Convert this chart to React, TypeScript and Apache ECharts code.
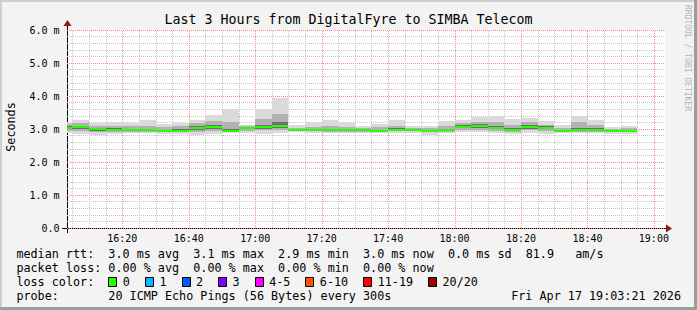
import { useEffect, useRef } from 'react';
import * as echarts from 'echarts';

// ---------- texts ----------
const titleText = 'Last 3 Hours from DigitalFyre to SIMBA Telecom';
const yAxisName = 'Seconds';
const watermark = 'RRDTOOL / TOBI OETIKER';
const probeText = '20 ICMP Echo Pings (56 Bytes) every 300s';
const dateText = 'Fri Apr 17 19:03:21 2026';

// ---------- axes ----------
const rangeStart = '16:03:21';
const rangeEnd = '19:03:21';
const stepMinutes = 5;
const xTickLabels = ['16:20', '16:40', '17:00', '17:20', '17:40', '18:00', '18:20', '18:40', '19:00'];
const yMin = 0;
const yMax = 6;
const yInterval = 1;

// ---------- data (ms), one value per 5-minute step, step end time ----------
const stepEnds = ['16:05', '16:10', '16:15', '16:20', '16:25', '16:30', '16:35', '16:40', '16:45', '16:50', '16:55',
  '17:00', '17:05', '17:10', '17:15', '17:20', '17:25', '17:30', '17:35', '17:40', '17:45', '17:50', '17:55',
  '18:00', '18:05', '18:10', '18:15', '18:20', '18:25', '18:30', '18:35', '18:40', '18:45', '18:50', '18:55'];
const medianRtt = [3.04, 3.05, 2.99, 2.98, 2.97, 2.96, 2.94, 2.95, 3.03, 3.05, 2.95,
  3.04, 3.06, 3.09, 2.98, 2.98, 2.96, 2.97, 2.96, 2.95, 2.98, 2.98, 2.95,
  2.96, 3.07, 3.08, 3.03, 2.96, 3.05, 3.04, 2.95, 2.96, 2.97, 2.94, 2.94];
const rttMax = [3.22, 3.27, 3.19, 3.21, 3.18, 3.28, 3.16, 3.19, 3.26, 3.43, 3.60,
  3.13, 3.62, 3.95, 3.11, 3.21, 3.26, 3.19, 3.10, 3.16, 3.26, 3.09, 3.08,
  3.23, 3.26, 3.36, 3.38, 3.29, 3.33, 3.23, 3.11, 3.39, 3.27, 3.06, 3.10];
const rttHigh = [3.14, 3.18, 3.10, 3.09, 3.08, 3.10, 3.05, 3.08, 3.17, 3.25, 3.20,
  3.09, 3.30, 3.45, 3.04, 3.07, 3.08, 3.06, 3.03, 3.06, 3.10, 3.04, 3.02,
  3.10, 3.17, 3.22, 3.20, 3.12, 3.20, 3.13, 3.03, 3.22, 3.12, 3.00, 3.02];
const rttCoreHigh = [3.08, 3.10, 3.03, 3.02, 3.01, 3.00, 2.98, 2.99, 3.08, 3.12, 3.00,
  3.07, 3.12, 3.20, 3.01, 3.01, 3.00, 3.00, 2.99, 2.98, 3.02, 3.01, 2.98,
  3.00, 3.12, 3.14, 3.10, 3.02, 3.13, 3.08, 2.98, 3.04, 3.02, 2.97, 2.97];
const rttCoreLow = [3.00, 3.00, 2.95, 2.95, 2.94, 2.93, 2.92, 2.92, 2.98, 3.00, 2.93,
  3.00, 3.00, 3.03, 2.95, 2.95, 2.94, 2.94, 2.94, 2.93, 2.95, 2.95, 2.92,
  2.94, 3.02, 3.03, 3.00, 2.93, 3.00, 3.00, 2.93, 2.94, 2.95, 2.92, 2.92];
const rttLow = [2.95, 2.94, 2.91, 2.92, 2.92, 2.91, 2.90, 2.90, 2.92, 2.95, 2.92,
  2.95, 2.96, 2.98, 2.93, 2.93, 2.92, 2.92, 2.92, 2.91, 2.93, 2.93, 2.90,
  2.92, 2.97, 2.98, 2.95, 2.91, 2.96, 2.95, 2.91, 2.91, 2.92, 2.90, 2.90];
const rttMin = [2.87, 2.85, 2.83, 2.86, 2.88, 2.87, 2.86, 2.84, 2.83, 2.86, 2.88,
  2.88, 2.86, 2.88, 2.90, 2.89, 2.88, 2.87, 2.89, 2.88, 2.87, 2.88, 2.83,
  2.87, 2.90, 2.90, 2.88, 2.86, 2.87, 2.86, 2.88, 2.87, 2.88, 2.85, 2.85];

// ---------- legend stats ----------
const rttStatValues = ['3.0', '3.1', '2.9', '3.0', '0.0'];
const rttStatNames = ['avg', 'max', 'min', 'now', 'sd'];
const amPerSecond = '81.9';
const lossStatValues = ['0.00', '0.00', '0.00', '0.00'];
const lossStatNames = ['avg', 'max', 'min', 'now'];
const lossLabels = ['0', '1', '2', '3', '4-5', '6-10', '11-19', '20/20'];
const lossColors = ['#26ff00', '#00b8ff', '#0059ff', '#7e00ff', '#ff00ff', '#ff5500', '#ff0000', '#a10000'];

// ---------- style ----------
const MONO = '"DejaVu Sans Mono", monospace';
const W = 697;
const H = 310;
const PLOT_L = 67;
const PLOT_R = 665;
const PLOT_T = 30;
const PLOT_B = 228;
const LEG_X = 16.4;
const LEG_FS = 11.75;
const CW = LEG_FS * 0.602;
const ROWS = [254, 268, 282, 296];
const MAJOR = '#f08c8c';
const MINOR = '#c4c4c4';
const ARROW = '#8b1a1a';

const toMin = (s: string) => {
  const [h, m, sec] = s.split(':').map(Number);
  return h * 60 + m + (sec || 0) / 60;
};
const fmtHM = (v: number) => {
  const h = Math.floor(v / 60);
  const m = Math.round(v - h * 60);
  return `${h}:${String(m).padStart(2, '0')}`;
};

function tokens(line: string) {
  const out: { col: number; text: string }[] = [];
  const re = /\S+(?: \S+)*/g;
  let m: RegExpExecArray | null;
  while ((m = re.exec(line))) out.push({ col: m.index, text: m[0] });
  return out;
}

export default function App() {
  const ref = useRef<HTMLDivElement>(null);
  useEffect(() => {
    const el = ref.current!;
    const chart = echarts.init(el, undefined, { renderer: 'svg' });
    const xMin = toMin(rangeStart);
    const xMax = toMin(rangeEnd);

    const gridMinutes: number[] = [];
    for (let m = Math.ceil(xMin / stepMinutes) * stepMinutes; m <= xMax; m += stepMinutes) gridMinutes.push(m);

    const smokeData = stepEnds.map((s, i) => [toMin(s), rttMin[i], rttLow[i], rttCoreLow[i], rttCoreHigh[i], rttHigh[i], rttMax[i], medianRtt[i]]);

    const line1 = 'median rtt:  ' + rttStatValues.map((v, i) => `${v} ms ${rttStatNames[i]}`).join('  ') + `  ${amPerSecond}   am/s`;
    const line2 = 'packet loss: ' + lossStatValues.map((v, i) => `${v} % ${lossStatNames[i]}`).join('  ');
    const line4 = 'probe:       ' + probeText;

    const texts: any[] = [];
    const addLine = (line: string, y: number) => {
      tokens(line).forEach((t) => {
        texts.push({
          type: 'text', silent: true,
          style: { x: LEG_X + t.col * CW, y, text: t.text, fill: '#000', fontFamily: MONO, fontSize: LEG_FS, textAlign: 'left', textVerticalAlign: 'middle' },
        });
      });
    };
    addLine(line1, ROWS[0]);
    addLine(line2, ROWS[1]);
    addLine('loss color:', ROWS[2]);
    addLine(line4, ROWS[3]);
    texts.push({
      type: 'text', silent: true,
      style: { x: 681, y: ROWS[3], text: dateText, fill: '#000', fontFamily: MONO, fontSize: LEG_FS, textAlign: 'right', textVerticalAlign: 'middle' },
    });
    let bx = LEG_X + 13 * CW;
    lossLabels.forEach((lab, i) => {
      texts.push({
        type: 'rect', silent: true,
        shape: { x: Math.round(bx) + 0.5, y: ROWS[2] - 4.5, width: 8, height: 9 },
        style: { fill: lossColors[i], stroke: '#000', lineWidth: 1 },
      });
      const lx = bx + 14.5;
      texts.push({
        type: 'text', silent: true,
        style: { x: lx, y: ROWS[2], text: lab, fill: '#000', fontFamily: MONO, fontSize: LEG_FS, textAlign: 'left', textVerticalAlign: 'middle' },
      });
      bx = lx + lab.length * CW + 15;
    });

    const graphic: any[] = [
      // frame
      { type: 'rect', silent: true, shape: { x: 0, y: 0, width: W, height: 2 }, style: { fill: '#cfcfcf' } },
      { type: 'rect', silent: true, shape: { x: 0, y: 0, width: 2, height: H }, style: { fill: '#cfcfcf' } },
      { type: 'rect', silent: true, shape: { x: W - 3, y: 0, width: 3, height: H }, style: { fill: '#9c9c9c' } },
      { type: 'rect', silent: true, shape: { x: 0, y: H - 3, width: W, height: 3 }, style: { fill: '#9c9c9c' } },
      // title
      { type: 'text', silent: true, style: { x: 348.5, y: 19, text: titleText, fill: '#000', fontFamily: MONO, fontSize: 13.3, textAlign: 'center', textVerticalAlign: 'middle' } },
      // y name
      { type: 'text', silent: true, x: 11, y: 127, rotation: Math.PI / 2, style: { x: 0, y: 0, text: yAxisName, fill: '#000', fontFamily: MONO, fontSize: LEG_FS, textAlign: 'center', textVerticalAlign: 'middle' } },
      // watermark
      { type: 'text', silent: true, x: 687, y: 58, rotation: -Math.PI / 2, style: { x: 0, y: 0, text: watermark, fill: '#b4b4b4', fontFamily: MONO, fontSize: 8, textAlign: 'center', textVerticalAlign: 'middle' } },
      // axis extensions & arrows
      { type: 'line', silent: true, shape: { x1: 62, y1: PLOT_B + 0.5, x2: 667, y2: PLOT_B + 0.5 }, style: { stroke: '#000', lineWidth: 1 } },
      { type: 'line', silent: true, shape: { x1: PLOT_L + 0.5, y1: 233, x2: PLOT_L + 0.5, y2: 25 }, style: { stroke: '#000', lineWidth: 1 } },
      { type: 'polygon', silent: true, shape: { points: [[666, 224.5], [672, 228.5], [666, 232.5]] }, style: { fill: ARROW } },
      { type: 'polygon', silent: true, shape: { points: [[63.5, 26], [67.5, 20], [71.5, 26]] }, style: { fill: ARROW } },
      ...texts,
    ];

    const option: any = {
      animation: false,
      backgroundColor: '#f3f3f3',
      grid: { left: PLOT_L, right: W - PLOT_R, top: PLOT_T, bottom: H - PLOT_B, show: true, backgroundColor: '#ffffff', borderWidth: 0 },
      xAxis: {
        type: 'value', min: xMin, max: xMax,
        axisLine: { show: false },
        axisTick: { show: false },
        splitLine: { show: false },
        axisLabel: {
          customValues: xTickLabels.map(toMin),
          formatter: (v: number) => fmtHM(v),
          fontFamily: MONO, fontSize: 10, color: '#000', margin: 5,
        },
      },
      yAxis: {
        type: 'value', min: yMin, max: yMax, interval: yInterval,
        axisLine: { show: false },
        axisTick: { show: false },
        axisLabel: {
          formatter: (v: number) => (v === 0 ? '0.0' : `${v.toFixed(1)} m`),
          fontFamily: MONO, fontSize: 10, color: '#000', margin: 7.5,
        },
        splitLine: { show: true, lineStyle: { color: MAJOR, width: 1, type: [1, 1] } },
        minorTick: { show: false, splitNumber: 5 },
        minorSplitLine: { show: true, lineStyle: { color: MINOR, width: 1, type: [1, 1] } },
      },
      graphic,
      series: [
        {
          type: 'custom', z: 1, silent: true,
          data: gridMinutes.map((m) => [m, 0]),
          encode: { x: 0, y: 1 },
          renderItem: (_p: any, api: any) => {
            const m = api.value(0);
            const top = api.coord([m, yMax]);
            const bot = api.coord([m, yMin]);
            const x = Math.round(top[0]) + 0.5;
            const major = Math.round(m) % 20 === 0;
            return {
              type: 'line',
              shape: { x1: x, y1: bot[1], x2: x, y2: top[1] },
              style: { stroke: major ? MAJOR : MINOR, lineWidth: 1, lineDash: [1, 1] },
            };
          },
        },
        {
          type: 'custom', z: 3, silent: true,
          data: smokeData,
          encode: { x: 0, y: 7 },
          renderItem: (_p: any, api: any) => {
            const tEnd = api.value(0);
            const tStart = Math.max(tEnd - stepMinutes, xMin);
            const xa = Math.round(api.coord([tStart, 0])[0]);
            const xb = Math.round(api.coord([tEnd, 0])[0]);
            const band = (lo: number, hi: number, fill: string) => {
              const ya = Math.round(api.coord([tEnd, hi])[1]);
              const yb = Math.round(api.coord([tEnd, lo])[1]);
              return { type: 'rect', shape: { x: xa, y: ya, width: xb - xa, height: Math.max(1, yb - ya) }, style: { fill } };
            };
            const medY = Math.round(api.coord([tEnd, api.value(7)])[1]);
            return {
              type: 'group',
              children: [
                band(api.value(1), api.value(6), '#dadada'),
                band(api.value(2), api.value(5), '#b2b2b2'),
                band(api.value(3), api.value(4), '#6e6e6e'),
                { type: 'rect', shape: { x: xa, y: medY - 1, width: xb - xa, height: 2 }, style: { fill: lossColors[0] } },
              ],
            };
          },
        },
      ],
    };
    chart.setOption(option);
    return () => chart.dispose();
  }, []);
  return <div ref={ref} style={{ position: 'fixed', left: 0, top: 0, width: W, height: H }} />;
}
